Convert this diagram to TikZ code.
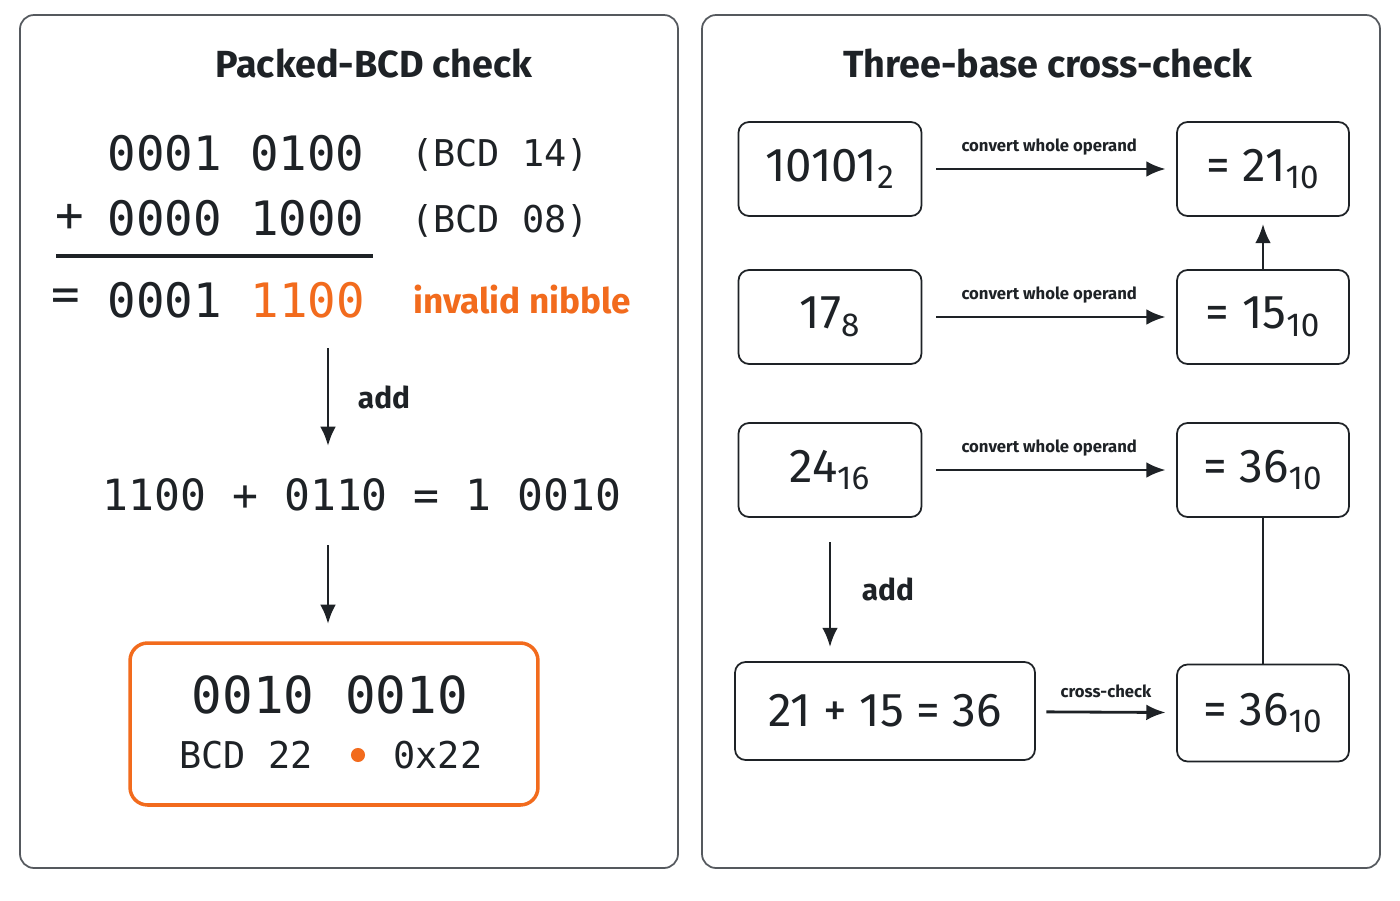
\documentclass[tikz,border=0pt]{standalone}
\usepackage{fontspec}
\setmainfont{Fira Sans}
\newfontfamily\monofont{DejaVu Sans Mono}
\usetikzlibrary{arrows.meta,positioning}
\definecolor{bcdorange}{HTML}{F26B1D}
\definecolor{inkdark}{HTML}{1E2226}
\definecolor{panelline}{HTML}{55595E}

\tikzset{
  panel/.style={draw=panelline,line width=1pt,rounded corners=8pt,fill=white},
  heading/.style={font=\fontsize{21.5}{24}\selectfont\bfseries,text=inkdark},
  bignum/.style={font=\monofont\fontsize{27}{30}\selectfont,text=inkdark},
  bcdnote/.style={font=\monofont\fontsize{21}{23}\selectfont,text=inkdark},
  valbox/.style={draw=inkdark,line width=1pt,rounded corners=6pt,minimum width=3.66cm,minimum height=1.88cm,font=\fontsize{27}{29}\selectfont,text=inkdark},
  convlabel/.style={font=\fontsize{9.5}{10}\selectfont\bfseries,text=inkdark},
  flow/.style={-{Latex[length=11pt,width=9pt]},line width=1.6pt,draw=inkdark},
}

\begin{document}
\begin{tikzpicture}[x=0.02cm,y=-0.02cm]
  \useasboundingbox (0,0) rectangle (1400,900);

  %panels
  \draw[panel] (20,15) rectangle (678,868);
  \draw[panel] (702,15) rectangle (1380,868);

  %left panel
  \node[heading] (ltitle) at (374,63) {Packed-BCD check};
  \node[bignum] (opa) at (236,153) {0001 0100};
  \node[bcdnote] (nota) at (500,155) {(BCD 14)};
  \node[bignum] (plus) at (70,218) {+};
  \node[bignum] (opb) at (236,218) {0000 1000};
  \node[bcdnote] (notb) at (500,221) {(BCD 08)};
  \coordinate (rulel) at (56,256);
  \coordinate (ruler) at (373,256);
  \draw[line width=2pt,draw=inkdark] (rulel) -- (ruler);
  \node[bignum] (eq) at (66,300) {=};
  \node[bignum] (hi) at (165,300) {0001};
  \node[bignum,text=bcdorange] (lo) at (308,300) {1100};
  \node[font=\fontsize{20}{22}\selectfont\bfseries,text=bcdorange] (bad) at (522,300) {invalid nibble};

  \coordinate (adda) at (328,348);
  \node[bignum,font=\monofont\fontsize{24.5}{27}\selectfont] (fix) at (362,495) {1100 + 0110 = 1 0010};
  \coordinate (addb) at (328,446);
  \draw[flow] (adda) -- (addb);
  \node[font=\fontsize{17}{20}\selectfont\bfseries,text=inkdark] (addl) at (384,397) {add};
  \coordinate (fixa) at (328,545);
  \coordinate (fixb) at (328,624);
  \draw[flow] (fixa) -- (fixb);

  \node[draw=bcdorange,line width=2pt,rounded corners=10pt,minimum width=8.16cm,minimum height=3.24cm] (res) at (334,724) {};
  \node[bignum,font=\monofont\fontsize{29}{31}\selectfont] (resv) at (330,695) {0010 0010};
  \node[bcdnote] (resb) at (246,755) {BCD 22};
  \node[circle,fill=bcdorange,inner sep=0pt,minimum size=8pt] (dot) at (358,755) {};
  \node[bcdnote] (resh) at (438,755) {0x22};

  %right panel
  \node[heading] (rtitle) at (1048,63) {Three-base cross-check};
  \node[valbox] (bin) at (830,169) {10101\textsubscript{2}};
  \node[valbox] (oct) at (830,317) {17\textsubscript{8}};
  \node[valbox] (hex) at (830,470) {24\textsubscript{16}};
  \node[valbox,minimum width=6cm,minimum height=1.96cm] (sum) at (885,711) {21 + 15 = 36};
  \node[valbox,minimum width=3.44cm] (bind) at (1263,169) {= 21\textsubscript{10}};
  \node[valbox,minimum width=3.44cm] (octd) at (1263,317) {= 15\textsubscript{10}};
  \node[valbox,minimum width=3.44cm] (hexd) at (1263,470) {= 36\textsubscript{10}};
  \node[valbox,minimum width=3.44cm,minimum height=1.94cm] (sumd) at (1263,713) {= 36\textsubscript{10}};

  \foreach \src/\dst in {bin/bind,oct/octd,hex/hexd}
    \draw[flow,shorten <=8pt,shorten >=6pt] (\src) -- node[convlabel,above=4pt] {convert whole operand} (\dst);
  \draw[flow,shorten <=6pt,shorten >=6pt] (sum) -- node[convlabel,above=4pt] {cross-check} (sumd);
  \draw[flow,shorten >=4pt] (octd.north) -- (bind.south);
  \draw[line width=1.6pt,draw=inkdark] (hexd.south) -- (sumd.north);
  \draw[flow,shorten <=14pt,shorten >=8pt] (hex.south) -- node[right=14pt,font=\fontsize{17}{20}\selectfont\bfseries,text=inkdark] {add} (hex.south |- sum.north);
\end{tikzpicture}
\end{document}
